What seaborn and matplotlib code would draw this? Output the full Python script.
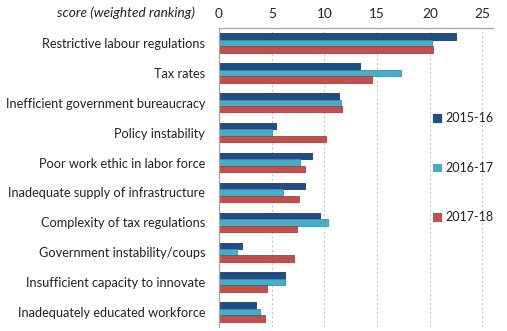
import matplotlib
matplotlib.use("Agg")
import matplotlib.pyplot as plt
import seaborn as sns
import pandas as pd

factors = [
    "Restrictive labour regulations",
    "Tax rates",
    "Inefficient government bureaucracy",
    "Policy instability",
    "Poor work ethic in labor force",
    "Inadequate supply of infrastructure",
    "Complexity of tax regulations",
    "Government instability/coups",
    "Insufficient capacity to innovate",
    "Inadequately educated workforce",
]
years = ["2015-16", "2016-17", "2017-18"]
score_2015_16 = [22.5, 13.4, 11.4, 5.4, 8.8, 8.2, 9.6, 2.2, 6.3, 3.5]
score_2016_17 = [20.2, 17.3, 11.6, 5.0, 7.7, 6.1, 10.3, 1.7, 6.3, 3.9]
score_2017_18 = [20.3, 14.5, 11.7, 10.2, 8.2, 7.6, 7.4, 7.1, 4.6, 4.4]
x_ticks = [0, 5, 10, 15, 20, 25]
colors = ["#1F4E87", "#4BACC6", "#C0504D"]
edge_colors = ["#183C68", "#3A8FA6", "#A03F3C"]

df = pd.DataFrame({
    "factor": factors * 3,
    "year": [y for y in years for _ in factors],
    "score": score_2015_16 + score_2016_17 + score_2017_18,
})

sns.set_style("white")
plt.rcParams["font.family"] = ["Lato", "DejaVu Sans"]

fig = plt.figure(figsize=(5.07, 3.31), dpi=100)
ax = fig.add_axes([219 / 507, 1 - 327 / 331, (493 - 219) / 507, (327 - 28) / 331])

sns.barplot(data=df, y="factor", x="score", hue="year", order=factors,
            hue_order=years, palette=colors, saturation=1, orient="h",
            width=0.65, linewidth=0.6, ax=ax, errorbar=None)

for container, ec in zip(ax.containers, edge_colors):
    for bar in container:
        bar.set_edgecolor(ec)

ax.set_xlim(0, 26)
ax.set_ylim(9.5, -0.5)
ax.set_xticks(x_ticks)
ax.xaxis.tick_top()
ax.tick_params(axis="x", length=0, pad=6, labelsize=9.8, colors="#222222")
ax.tick_params(axis="y", length=0, pad=10, labelsize=9.2, colors="#222222")
ax.set_xlabel("")
ax.set_ylabel("")
ax.set_axisbelow(True)
ax.grid(axis="x", linestyle=(0, (2, 2)), color="#C8C8C8", linewidth=0.8)
ax.grid(axis="y", visible=False)

for side in ["right", "bottom"]:
    ax.spines[side].set_visible(False)
for side in ["top", "left"]:
    ax.spines[side].set_color("#A6A6A6")
    ax.spines[side].set_linewidth(0.9)

fig.text(195 / 507, 1 - 13 / 331, "score (weighted ranking)", ha="right",
         va="center", fontsize=9.8, style="italic", color="#222222")

handles, labels = ax.get_legend_handles_labels()
ax.legend(handles, labels, loc="center left", bbox_to_anchor=(0.777, 0.532),
          frameon=False, borderaxespad=0, borderpad=0, labelspacing=3.0,
          handlelength=0.8, handleheight=0.8, handletextpad=0.3,
          fontsize=9, labelcolor="#222222")

fig.savefig("out.png", dpi=100)
